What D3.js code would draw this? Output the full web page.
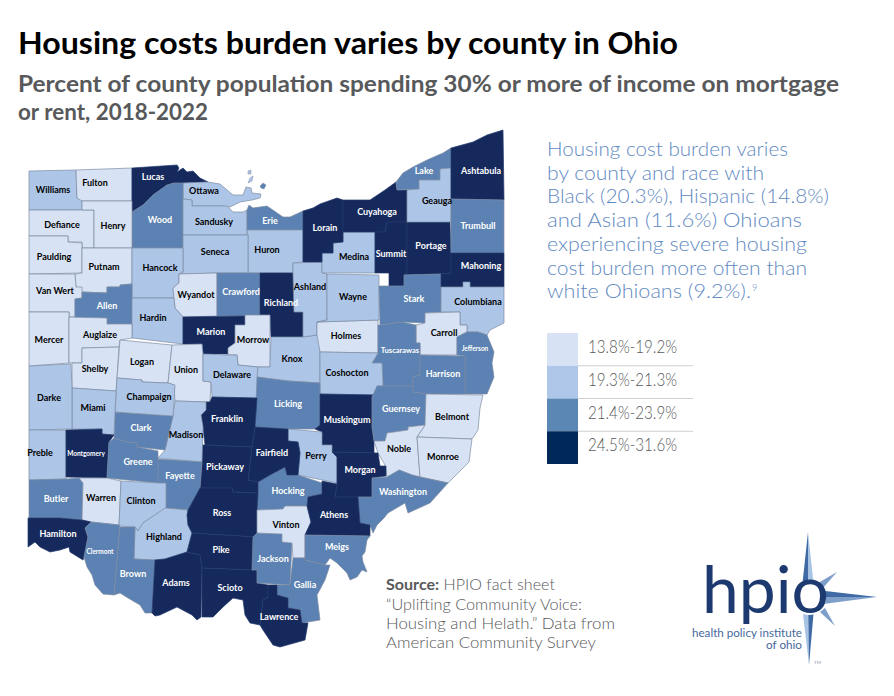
<!DOCTYPE html>
<html>
<head>
<meta charset="utf-8">
<script src="https://cdnjs.cloudflare.com/ajax/libs/d3/7.8.5/d3.min.js"></script>
<style>
  body { margin: 0; background: #fff; }
  text { font-family: Lato, "Open Sans", sans-serif; }
</style>
</head>
<body>
<div id="graph-placeholder"></div>
<script>
var width = 894, height = 696;

// burden bins, 0 = lowest
var bins = [
  {label: "13.8%-19.2%", map: "#d7e3f4", key: "#d7e3f4", ink: "#000"},
  {label: "19.3%-21.3%", map: "#adc6e8", key: "#aec6e8", ink: "#000"},
  {label: "21.4%-23.9%", map: "#5b82b2", key: "#5b87b5", ink: "#fff"},
  {label: "24.5%-31.6%", map: "#16295c", key: "#002858", ink: "#fff"}
];

// name, bin, label x, label y, outline (all in map units)
var counties = [
  ["Williams",1,53,190,[[29,171],[76,170],[77,198],[82,199],[82,210],[29,210]]],
  ["Fulton",0,95,183,[[76,170],[132,168],[132,201],[82,201],[77,198]]],
  ["Lucas",3,153,177,[[132,168],[177,165],[179,168],[177,172],[183,168],[187,172],[193,171],[200,178],[208,182],[183,183],[174,183],[167,185],[153,195],[143,205],[132,212]]],
  ["Ottawa",1,204,191,[[183,183],[208,182],[220,184],[233,195],[243,195],[246,187],[251,188],[252,193],[261,194],[260,198],[252,200],[240,202],[230,207],[220,206],[192,206],[192,200],[183,199]]],
  ["Wood",2,160,220,[[132,212],[143,205],[153,195],[167,185],[174,183],[183,183],[183,248],[132,248]]],
  ["Sandusky",1,214,222,[[183,199],[192,200],[192,206],[227,206],[233,212],[243,212],[247,210],[247,235],[183,235]]],
  ["Erie",2,270,221,[[247,210],[249,205],[253,208],[267,206],[283,217],[290,217],[303,211],[303,230],[247,230]]],
  ["Huron",1,267,250,[[247,230],[303,230],[303,262],[293,263],[293,273],[248,273],[248,235]]],
  ["Seneca",1,215,252,[[183,235],[248,235],[248,273],[217,273],[179,274],[183,272]]],
  ["Defiance",0,62,225,[[29,210],[94,210],[94,248],[82,248],[82,242],[68,242],[68,236],[29,236]]],
  ["Henry",0,113,226,[[82,201],[132,201],[132,248],[94,248],[94,210],[82,210]]],
  ["Paulding",0,54,257,[[29,236],[68,236],[68,242],[82,243],[82,273],[29,274]]],
  ["Putnam",0,104,267,[[82,248],[132,248],[132,284],[120,285],[120,287],[107,287],[107,293],[82,292],[76,287],[75,274],[82,273]]],
  ["Hancock",1,160,268,[[132,248],[183,248],[183,272],[179,274],[179,283],[173,288],[174,298],[132,298]]],
  ["Van Wert",0,55,291,[[29,274],[75,274],[76,287],[82,287],[82,298],[75,299],[75,317],[69,317],[69,312],[29,312]]],
  ["Wyandot",0,196,295,[[179,274],[217,273],[217,316],[183,317],[175,308],[173,288],[179,283]]],
  ["Crawford",2,241,292,[[217,273],[260,273],[260,315],[245,316],[217,316]]],
  ["Allen",2,107,306,[[82,298],[82,292],[107,293],[107,287],[120,287],[120,285],[132,284],[132,324],[107,324],[107,318],[75,318],[75,299]]],
  ["Hardin",1,153,318,[[132,298],[174,298],[175,308],[183,317],[183,344],[132,338]]],
  ["Richland",3,281,303,[[260,273],[294,273],[294,312],[303,312],[303,337],[271,337],[270,315],[260,315]]],
  ["Marion",3,211,332,[[183,317],[245,316],[245,325],[235,325],[235,343],[228,348],[228,354],[203,354],[202,344],[183,344]]],
  ["Morrow",0,253,340,[[245,325],[245,315],[270,315],[270,367],[258,367],[238,365],[237,355],[228,355],[228,348],[235,343],[235,325]]],
  ["Mercer",0,49,340,[[29,312],[69,312],[69,363],[29,366]]],
  ["Auglaize",0,100,335,[[69,317],[107,318],[107,324],[132,324],[132,338],[120,340],[119,347],[82,348],[82,363],[69,363]]],
  ["Shelby",0,95,369,[[82,348],[119,347],[117,378],[116,391],[72,388],[72,363],[82,363]]],
  ["Logan",0,142,362,[[120,340],[172,345],[168,383],[142,382],[142,380],[117,378]]],
  ["Union",0,186,370,[[172,345],[202,344],[203,354],[203,381],[211,382],[210,402],[175,401],[174,385],[168,383]]],
  ["Delaware",1,232,375,[[203,354],[228,355],[237,355],[238,365],[258,367],[257,398],[212,397],[211,382],[203,381]]],
  ["Knox",1,292,359,[[258,367],[270,367],[271,337],[303,337],[317,335],[320,343],[320,383],[288,381],[257,377]]],
  ["Ashland",1,310,290,[[293,263],[322,262],[322,273],[327,274],[327,320],[317,322],[317,335],[303,337],[303,312],[294,312],[293,273]]],
  ["Holmes",0,346,336,[[317,322],[378,320],[378,353],[320,352],[317,335]]],
  ["Wayne",1,353,297,[[327,274],[379,275],[379,320],[317,322],[327,320]]],
  ["Medina",1,354,257,[[343,232],[375,232],[375,273],[322,273],[322,253],[333,253],[333,243],[343,242]]],
  ["Lorain",3,325,228,[[303,211],[313,208],[320,204],[337,198],[343,200],[343,242],[333,243],[333,253],[322,253],[322,262],[303,262]]],
  ["Cuyahoga",3,377,212,[[343,200],[360,200],[370,200],[385,190],[396,182],[397,190],[407,190],[407,222],[387,222],[385,232],[343,232]]],
  ["Summit",3,391,254,[[375,232],[385,232],[387,222],[407,222],[407,273],[404,275],[404,286],[389,286],[389,273],[375,273]]],
  ["Portage",3,431,246,[[407,222],[450,222],[451,253],[451,273],[441,274],[404,275],[407,273]]],
  ["Stark",2,414,299,[[404,275],[441,274],[441,312],[425,313],[425,323],[402,322],[380,325],[379,286],[404,286]]],
  ["Lake",2,424,171,[[396,182],[403,173],[413,167],[427,160],[443,153],[451,148],[451,168],[440,169],[440,180],[419,180],[419,189],[397,190]]],
  ["Geauga",1,437,201,[[407,190],[419,189],[419,180],[440,180],[440,169],[451,168],[451,222],[407,222]]],
  ["Ashtabula",3,481,171,[[451,148],[473,142],[487,135],[503,130],[504,200],[451,199]]],
  ["Trumbull",2,478,226,[[451,199],[504,200],[504,253],[451,253]]],
  ["Mahoning",3,481,266,[[451,253],[504,253],[504,287],[470,287],[470,282],[463,282],[463,287],[441,287],[441,274],[451,273]]],
  ["Columbiana",1,478,302,[[441,287],[463,287],[463,282],[470,282],[470,287],[504,287],[504,323],[490,330],[487,335],[478,332],[467,332],[467,325],[460,325],[460,312],[441,312]]],
  ["Carroll",0,444,333,[[425,313],[460,312],[460,325],[467,325],[467,332],[457,337],[457,355],[420,355],[420,343],[416,343],[416,325],[425,323]]],
  ["Tuscarawas",2,400,350,[[380,325],[402,322],[416,325],[416,343],[420,343],[420,375],[413,377],[413,386],[383,386],[382,363],[372,363],[378,353],[378,325]]],
  ["Jefferson",2,475,349,[[467,332],[478,332],[487,335],[494,352],[492,363],[494,377],[487,394],[465,394],[465,356],[457,355],[457,337]]],
  ["Harrison",2,443,374,[[420,355],[465,356],[465,394],[426,394],[413,392],[413,377],[420,375]]],
  ["Coshocton",1,347,373,[[320,352],[378,353],[372,363],[382,363],[383,386],[377,386],[377,395],[320,394]]],
  ["Licking",2,288,404,[[257,377],[288,381],[320,383],[320,425],[315,429],[288,429],[255,427]]],
  ["Muskingum",3,347,420,[[320,394],[377,395],[372,397],[372,427],[374,441],[374,453],[332,452],[332,445],[322,445],[322,432],[315,429],[320,425]]],
  ["Guernsey",2,401,409,[[377,386],[413,386],[413,392],[426,394],[425,425],[408,427],[408,430],[387,433],[385,441],[374,441],[372,427],[372,397]]],
  ["Belmont",0,452,417,[[426,394],[483,395],[480,408],[478,430],[472,439],[417,437],[425,425]]],
  ["Noble",0,399,449,[[374,441],[385,441],[387,433],[408,430],[408,427],[425,425],[417,437],[420,477],[412,475],[399,470],[398,477],[387,477],[385,465],[378,453]]],
  ["Monroe",0,443,457,[[417,437],[472,439],[469,462],[448,483],[420,477]]],
  ["Perry",1,316,456,[[288,429],[322,432],[322,445],[332,445],[332,452],[337,457],[337,483],[298,475],[300,453],[298,442],[288,441]]],
  ["Morgan",3,360,470,[[332,452],[378,453],[380,466],[386,466],[386,476],[372,478],[372,497],[335,497],[337,483],[337,457]]],
  ["Washington",2,403,492,[[372,478],[387,477],[399,470],[412,475],[420,477],[448,483],[430,503],[408,513],[405,503],[388,513],[384,518],[377,525],[373,533],[370,525],[360,523],[358,497],[372,497]]],
  ["Hocking",2,288,491,[[258,482],[270,475],[285,467],[287,475],[298,475],[322,483],[322,494],[308,497],[307,506],[285,506],[283,509],[257,510]]],
  ["Fairfield",3,272,453,[[255,427],[288,429],[288,441],[298,442],[300,453],[298,475],[287,475],[285,467],[270,475],[258,482],[248,480],[252,447]]],
  ["Franklin",3,227,419,[[212,397],[257,398],[255,427],[252,447],[205,445],[203,427],[201,415],[206,410],[206,402],[210,402]]],
  ["Pickaway",3,225,467,[[205,445],[252,447],[248,480],[258,482],[258,493],[233,492],[232,488],[200,488],[202,462],[202,445]]],
  ["Madison",1,186,435,[[175,401],[206,402],[206,410],[201,415],[203,427],[202,462],[158,458],[165,450],[173,416]]],
  ["Fayette",2,180,476,[[158,459],[202,462],[200,488],[188,510],[166,508],[166,483],[158,483]]],
  ["Clark",2,141,428,[[115,412],[173,416],[165,450],[137,447],[137,443],[127,442],[114,438]]],
  ["Champaign",1,149,397,[[117,378],[142,380],[142,382],[168,383],[175,385],[173,416],[115,412]]],
  ["Miami",1,93,408,[[72,388],[116,391],[115,412],[114,435],[102,434],[102,429],[72,429]]],
  ["Darke",1,49,398,[[29,366],[71,364],[72,388],[72,429],[29,430]]],
  ["Preble",1,40,453,[[29,430],[66,430],[66,479],[29,480]]],
  ["Montgomery",3,86,454,[[66,430],[102,429],[102,434],[114,435],[109,442],[107,478],[66,477]]],
  ["Greene",2,138,462,[[114,438],[127,442],[137,443],[137,447],[158,451],[158,483],[107,478],[109,442]]],
  ["Butler",2,56,499,[[29,480],[66,479],[79,478],[83,483],[82,520],[60,518],[29,518]]],
  ["Warren",0,101,498,[[79,478],[107,478],[121,481],[119,525],[91,522],[82,520],[83,483]]],
  ["Clinton",1,141,501,[[121,481],[158,483],[166,483],[166,508],[143,523],[138,531],[135,527],[119,526]]],
  ["Highland",1,164,537,[[165,508],[188,510],[188,525],[192,533],[187,552],[165,559],[155,560],[134,559],[135,527],[138,531],[143,523]]],
  ["Hamilton",3,58,534,[[28,518],[60,518],[82,520],[91,522],[85,528],[88,537],[84,557],[83,560],[70,552],[69,547],[60,550],[50,552],[40,547],[35,542],[28,547]]],
  ["Clermont",2,100,552,[[91,522],[119,525],[120,527],[114,595],[103,594],[95,585],[92,575],[87,567],[84,557],[88,537],[85,528]]],
  ["Brown",2,133,574,[[120,527],[135,527],[134,559],[155,560],[152,613],[145,613],[140,605],[128,598],[120,593],[114,595]]],
  ["Adams",3,176,583,[[155,560],[165,559],[187,552],[200,555],[202,568],[201,617],[197,620],[192,615],[177,607],[160,615],[155,616],[152,613]]],
  ["Ross",3,222,513,[[200,488],[232,488],[233,492],[258,493],[257,510],[257,537],[192,533],[188,525],[187,515],[188,510]]],
  ["Pike",3,221,550,[[192,533],[257,537],[252,570],[202,568],[200,555],[187,552]]],
  ["Scioto",3,230,588,[[202,568],[252,570],[257,570],[257,583],[268,585],[268,597],[263,600],[260,625],[250,623],[245,615],[243,600],[233,598],[223,607],[213,617],[202,617]]],
  ["Jackson",2,273,559,[[252,570],[253,537],[257,533],[282,534],[282,542],[292,543],[290,585],[257,583],[257,570]]],
  ["Vinton",0,286,525,[[257,510],[283,509],[285,506],[307,506],[311,522],[305,535],[305,558],[293,558],[292,543],[282,542],[282,534],[257,533]]],
  ["Athens",3,334,515,[[307,506],[308,497],[322,494],[322,481],[337,484],[335,497],[358,497],[360,523],[370,525],[370,536],[305,535],[311,522]]],
  ["Meigs",2,337,547,[[305,535],[370,536],[367,540],[365,552],[362,556],[363,562],[367,572],[362,570],[357,577],[350,580],[347,573],[337,563],[330,558],[325,565],[305,560]]],
  ["Gallia",2,305,585,[[293,558],[305,558],[305,560],[325,565],[330,565],[325,580],[317,595],[320,620],[302,623],[300,610],[288,608],[288,598],[277,595],[277,585],[290,585]]],
  ["Lawrence",3,279,617,[[268,585],[277,585],[277,595],[288,598],[288,608],[300,610],[302,623],[308,623],[305,640],[280,647],[273,645],[263,630],[260,625],[263,600],[268,597]]]
];

// lake islands belong to Ottawa and Erie
var islands = [
  [1,[[250,178],[253,176],[252,181],[248,183]]],
  [1,[[248,171],[251,170],[251,174],[248,174]]],
  [2,[[260,186],[263,183],[266,185],[264,189],[261,188]]]
];

// small type on the counties that do not fit
var labelSize = {Montgomery: 6.5, Clermont: 6.5, Jefferson: 6.5, Tuscarawas: 7.5};
var labelLift = {Ashland: -3};

var sidebar = [
  "Housing cost burden varies",
  "by county and race with",
  "Black (20.3%), Hispanic (14.8%)",
  "and Asian (11.6%) Ohioans",
  "experiencing severe housing",
  "cost burden more often than",
  "white Ohioans (9.2%)."
];
var sidebarWidth = [241, 217, 282, 255, 260, 260, 204];

var svg = d3.select("#graph-placeholder").append("svg")
  .attr("width", width)
  .attr("height", height);

var projection = d3.geoIdentity();
var path = d3.geoPath(projection);

// geojson rings have to repeat their first point
function polygon(ring) {
  return {type: "Polygon", coordinates: [ring.concat([ring[0]])]};
}

svg.append("g").selectAll("path")
  .data(counties)
  .enter().append("path")
  .attr("d", function(d) { return path(polygon(d[4])); })
  .attr("fill", function(d) { return bins[d[1]].map; })
  .attr("stroke", function(d) { return d[1] == 3 ? "#233a6e" : "#7c8ba3"; })
  .attr("stroke-width", 0.7)
  .attr("stroke-linejoin", "round");

svg.append("g").selectAll("path")
  .data(islands)
  .enter().append("path")
  .attr("d", function(d) { return path(polygon(d[1])); })
  .attr("fill", function(d) { return bins[d[0]].map; })
  .attr("stroke", "#7c8ba3")
  .attr("stroke-width", 0.5);

svg.append("g").selectAll("text")
  .data(counties)
  .enter().append("text")
  .attr("x", function(d) { return projection([d[2], d[3]])[0]; })
  .attr("y", function(d) { return projection([d[2], d[3]])[1] + (labelLift[d[0]] || 0); })
  .attr("dy", "0.35em")
  .attr("text-anchor", "middle")
  .attr("font-size", function(d) { return labelSize[d[0]] || 9; })
  .attr("font-weight", 700)
  .attr("fill", function(d) { return bins[d[1]].ink; })
  .text(function(d) { return d[0]; });

// headings
function line(x, y, size, weight, fill, length, str) {
  return svg.append("text")
    .attr("x", x).attr("y", y)
    .attr("font-size", size)
    .attr("font-weight", weight)
    .attr("fill", fill)
    .attr("textLength", length)
    .attr("lengthAdjust", "spacingAndGlyphs")
    .text(str);
}

line(18, 53.5, 31, 700, "#000", 660, "Housing costs burden varies by county in Ohio");
line(18, 92, 23, 700, "#58595b", 821, "Percent of county population spending 30% or more of income on mortgage");
line(18, 120, 23, 700, "#58595b", 190, "or rent, 2018-2022");

// right hand note
sidebar.forEach(function(str, i) {
  line(547, 156 + i * 23.7, 20, 300, "#5f8ac2", sidebarWidth[i], str);
});
svg.append("text")
  .attr("x", 752).attr("y", 291)
  .attr("font-size", 9)
  .attr("font-weight", 300)
  .attr("fill", "#5f8ac2")
  .text("9");

// legend
var legendY = d3.scaleBand()
  .domain(d3.range(bins.length))
  .range([333, 464]);

var legend = svg.append("g").selectAll("g")
  .data(bins)
  .enter().append("g")
  .attr("transform", function(d, i) { return "translate(0," + legendY(i) + ")"; });

legend.append("rect")
  .attr("x", 547)
  .attr("width", 31)
  .attr("height", legendY.bandwidth())
  .attr("fill", function(d) { return d.key; });

legend.filter(function(d, i) { return i < bins.length - 1; })
  .append("line")
  .attr("x1", 578).attr("x2", 693)
  .attr("y1", legendY.bandwidth()).attr("y2", legendY.bandwidth())
  .attr("stroke", "#cfcfcf");

legend.append("text")
  .attr("x", 588)
  .attr("y", 20)
  .attr("font-size", 17)
  .attr("font-weight", 300)
  .attr("fill", "#58595b")
  .attr("textLength", 89)
  .attr("lengthAdjust", "spacingAndGlyphs")
  .text(function(d) { return d.label; });

// source
var source = line(386, 590, 15.5, 300, "#58595b", 169, "");
source.append("tspan").attr("font-weight", 700).text("Source:");
source.append("tspan").text(" HPIO fact sheet");
line(386, 610, 15.5, 300, "#58595b", 196, "\u201cUplifting Community Voice:");
line(386, 629, 15.5, 300, "#58595b", 229, "Housing and Helath.\u201d Data from");
line(386, 648, 15.5, 300, "#58595b", 210, "American Community Survey");

// logo
var star = [
  ["#3f6aa3", [[808,532],[808,597],[801,597]]],
  ["#a9c3e4", [[808,532],[808,597],[815,597]]],
  ["#a9c3e4", [[809,665],[808,597],[801,597]]],
  ["#3f6aa3", [[809,665],[808,597],[815,597]]],
  ["#3f6aa3", [[877,597],[808,589],[808,597]]],
  ["#7f9fcb", [[877,597],[808,597],[808,606]]],
  ["#7f9fcb", [[837,572],[818,583],[823,588]]],
  ["#7f9fcb", [[835,626],[820,612],[825,608]]]
];

svg.append("g").selectAll("path")
  .data(star)
  .enter().append("path")
  .attr("d", function(d) { return path(polygon(d[1])); })
  .attr("fill", function(d) { return d[0]; });

// star does not show through the o
svg.append("circle")
  .attr("cx", 809).attr("cy", 598).attr("r", 17)
  .attr("fill", "#fff");

line(702, 613, 66, 400, "#1d3a70", 127, "hpio");
line(692, 637, 11.5, 400, "#47699c", 110, "health policy institute");
line(766, 648.5, 11.5, 400, "#47699c", 36, "of ohio");
line(814, 664, 4.5, 400, "#8a93a0", 7, "TM");
</script>
</body>
</html>
